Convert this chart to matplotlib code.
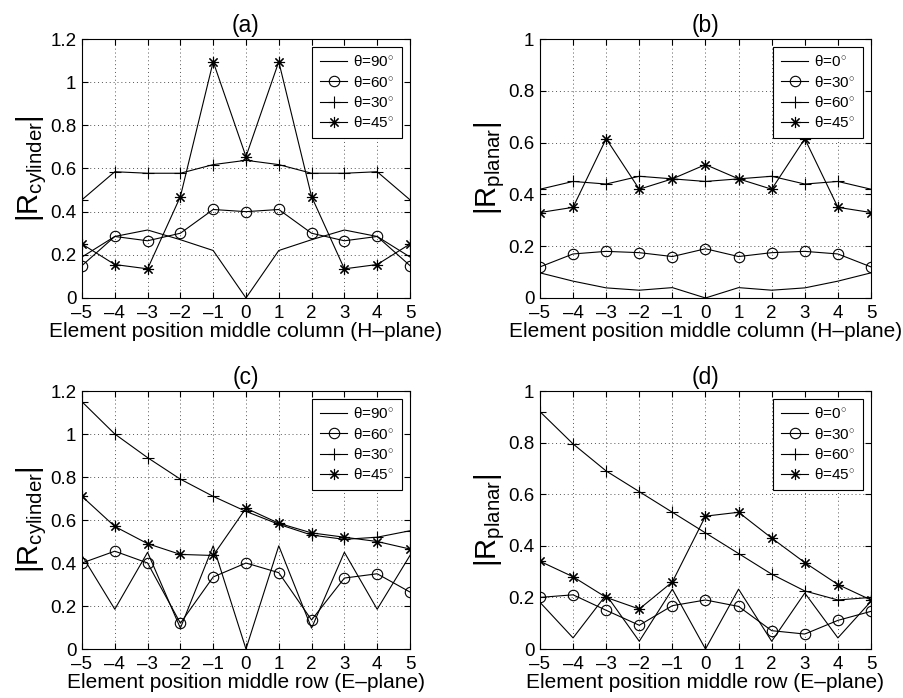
import numpy as np
import matplotlib
matplotlib.use("Agg")
import matplotlib.pyplot as plt

plt.rcParams['font.family'] = ['Liberation Sans', 'DejaVu Sans']
plt.rcParams['mathtext.fontset'] = 'custom'
plt.rcParams['mathtext.rm'] = 'Liberation Sans'
plt.rcParams['mathtext.it'] = 'Liberation Sans:italic'

pos = np.arange(-5, 6)

# (a) cylinder, H-plane
a_90 = [0.19, 0.285, 0.315, 0.27, 0.22, 0.0, 0.22, 0.27, 0.315, 0.285, 0.19]
a_60 = [0.15, 0.285, 0.265, 0.30, 0.41, 0.40, 0.41, 0.30, 0.265, 0.285, 0.15]
a_30 = [0.455, 0.585, 0.578, 0.578, 0.618, 0.638, 0.618, 0.578, 0.578, 0.585, 0.455]
a_45 = [0.25, 0.155, 0.135, 0.47, 1.095, 0.655, 1.095, 0.47, 0.135, 0.155, 0.25]

# (b) planar, H-plane
b_0 = [0.097, 0.065, 0.039, 0.03, 0.04, 0.0, 0.04, 0.03, 0.039, 0.065, 0.097]
b_30 = [0.12, 0.17, 0.18, 0.175, 0.16, 0.19, 0.16, 0.175, 0.18, 0.17, 0.12]
b_60 = [0.42, 0.45, 0.44, 0.47, 0.46, 0.45, 0.46, 0.47, 0.44, 0.45, 0.42]
b_45 = [0.33, 0.35, 0.615, 0.42, 0.46, 0.515, 0.46, 0.42, 0.615, 0.35, 0.33]

# (c) cylinder, E-plane
c_90 = [0.435, 0.185, 0.45, 0.097, 0.48, 0.0, 0.48, 0.097, 0.45, 0.185, 0.435]
c_60 = [0.40, 0.455, 0.40, 0.12, 0.335, 0.40, 0.355, 0.135, 0.33, 0.35, 0.265]
c_30 = [1.15, 1.0, 0.89, 0.79, 0.71, 0.64, 0.58, 0.53, 0.51, 0.52, 0.55]
c_45 = [0.71, 0.57, 0.49, 0.44, 0.435, 0.655, 0.585, 0.54, 0.52, 0.50, 0.465]

# (d) planar, E-plane
d_0 = [0.181, 0.043, 0.21, 0.03, 0.232, 0.0, 0.232, 0.03, 0.217, 0.043, 0.185]
d_30 = [0.20, 0.21, 0.15, 0.092, 0.168, 0.19, 0.165, 0.071, 0.058, 0.111, 0.146]
d_60 = [0.92, 0.795, 0.69, 0.61, 0.53, 0.45, 0.37, 0.29, 0.225, 0.19, 0.20]
d_45 = [0.34, 0.28, 0.20, 0.155, 0.26, 0.515, 0.53, 0.43, 0.335, 0.25, 0.19]

labels_cyl = ['\u03b8=90$^{\\circ}$', '\u03b8=60$^{\\circ}$',
              '\u03b8=30$^{\\circ}$', '\u03b8=45$^{\\circ}$']
labels_pla = ['\u03b8=0$^{\\circ}$', '\u03b8=30$^{\\circ}$',
              '\u03b8=60$^{\\circ}$', '\u03b8=45$^{\\circ}$']

star = (8, 2, 0)

fig = plt.figure(figsize=(9.04, 6.98), dpi=100)
rects = [
    [0.0907, 0.5731, 0.3628, 0.371],
    [0.5973, 0.5731, 0.3662, 0.371],
    [0.0907, 0.0702, 0.3628, 0.3696],
    [0.5973, 0.0702, 0.3662, 0.3696],
]
panels = [
    ('(a)', [a_90, a_60, a_30, a_45], labels_cyl, 1.2, 'cylinder', 'Element position middle column (H\u2013plane)'),
    ('(b)', [b_0, b_30, b_60, b_45], labels_pla, 1.0, 'planar', 'Element position middle column (H\u2013plane)'),
    ('(c)', [c_90, c_60, c_30, c_45], labels_cyl, 1.2, 'cylinder', 'Element position middle row (E\u2013plane)'),
    ('(d)', [d_0, d_30, d_60, d_45], labels_pla, 1.0, 'planar', 'Element position middle row (E\u2013plane)'),
]

for rect, (title, series, labels, ymax, sub, xlab) in zip(rects, panels):
    ax = fig.add_axes(rect)
    ax.plot(pos, series[0], '-', color='k', lw=0.8, label=labels[0])
    ax.plot(pos, series[1], '-', color='k', lw=0.8, marker='o', ms=7.5,
            mfc='none', mec='k', mew=0.8, label=labels[1])
    ax.plot(pos, series[2], '-', color='k', lw=0.8, marker='+', ms=8,
            mew=0.8, label=labels[2])
    ax.plot(pos, series[3], '-', color='k', lw=0.8, marker=star, ms=8,
            mew=0.8, label=labels[3])
    ax.set_xlim(-5, 5)
    ax.set_ylim(0, ymax)
    ax.set_xticks(pos)
    ax.set_xticklabels([str(p).replace('-', '\u2013') for p in pos])
    yt = np.arange(0, ymax + 0.01, 0.2)
    ax.set_yticks(yt)
    ax.set_yticklabels(['%g' % round(v, 1) for v in yt])
    ax.grid(True, linestyle=(0, (1, 3)), color='#555555', lw=0.7)
    ax.tick_params(axis='both', direction='in', top=True, right=True,
                   labelsize=13.5, length=4, width=0.8)
    ax.tick_params(axis='x', pad=5)
    ax.tick_params(axis='y', pad=4)
    for s in ax.spines.values():
        s.set_linewidth(0.8)
    ax.set_title(title, fontsize=16.5, pad=5)
    ax.set_xlabel(xlab, fontsize=15, labelpad=0)
    ax.set_ylabel(r'$|\mathrm{R}_{\mathrm{%s}}|$' % sub, fontsize=21, labelpad=1)
    leg = ax.legend(loc='upper right', fontsize=11, frameon=True, fancybox=False,
                    edgecolor='k', framealpha=1, handlelength=1.8,
                    borderaxespad=0.5, labelspacing=0.35, handletextpad=0.4,
                    borderpad=0.5)
    leg.get_frame().set_linewidth(0.8)

fig.savefig('out.png', dpi=100)
